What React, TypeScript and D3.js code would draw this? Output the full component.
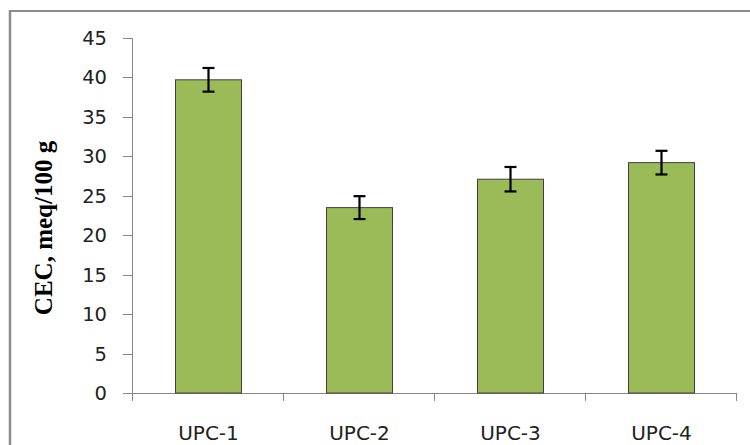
import React from "react";
import * as d3 from "d3";

const categories = ["UPC-1", "UPC-2", "UPC-3", "UPC-4"];
const values = [39.7, 23.5, 27.1, 29.2];
const errors = [1.5, 1.45, 1.55, 1.5];
const yTicks = [0, 5, 10, 15, 20, 25, 30, 35, 40, 45];
const yTitle = "CEC, meq/100 g";

export default function App() {
  const W = 750, H = 445;
  const x0 = 133, x1 = 737, yBase = 393, yTop = 38;
  const x = d3.scaleBand<string>().domain(categories).range([x0, x1]).paddingInner(0.563).paddingOuter(0.2815);
  const y = d3.scaleLinear().domain([0, 45]).range([yBase, yTop]);
  const step = (x1 - x0) / categories.length;
  const boundaries = d3.range(categories.length + 1).map((i) => x0 + i * step);
  const axisColor = "#868686";
  const labelFont = "'DejaVu Sans', sans-serif";
  return (
    <svg width={W} height={H} style={{ position: "absolute", left: 0, top: 0, display: "block", background: "#fff" }}>
      <rect x={0} y={0} width={W} height={H} fill="#fff" />
      {/* frame */}
      <line x1={10} y1={11} x2={W} y2={11} stroke="#8c8c8c" strokeWidth={2} />
      <line x1={10} y1={10} x2={10} y2={H} stroke="#8c8c8c" strokeWidth={2.5} />
      {/* y axis */}
      <line x1={x0 - 0.5} y1={y(45)} x2={x0 - 0.5} y2={yBase + 8} stroke={axisColor} strokeWidth={1} />
      {yTicks.map((t) => (
        <g key={t}>
          <line x1={x0 - 10} x2={x0} y1={Math.round(y(t)) + 0.5} y2={Math.round(y(t)) + 0.5} stroke={axisColor} />
          <text x={107} y={y(t)} dy="0.36em" textAnchor="end" fontFamily={labelFont} fontSize={19.5} fill="#222">
            {t}
          </text>
        </g>
      ))}
      {/* x axis */}
      <line x1={x0} x2={x1} y1={yBase + 0.5} y2={yBase + 0.5} stroke={axisColor} />
      {boundaries.map((b, i) => (
        <line key={i} x1={Math.round(b) - 0.5} x2={Math.round(b) - 0.5} y1={yBase} y2={yBase + 8} stroke={axisColor} />
      ))}
      {/* bars */}
      {categories.map((c, i) => (
        <rect
          key={c}
          x={x(c)!}
          y={y(values[i])}
          width={x.bandwidth()}
          height={yBase - y(values[i])}
          fill="#9bbb59"
          stroke="#404040"
          strokeWidth={1}
        />
      ))}
      {/* error bars */}
      {categories.map((c, i) => {
        const cx = x(c)! + x.bandwidth() / 2;
        const hi = y(values[i] + errors[i]);
        const lo = y(values[i] - errors[i]);
        return (
          <g key={c} stroke="#000" strokeWidth={2.2}>
            <line x1={cx} x2={cx} y1={hi} y2={lo} />
            <line x1={cx - 6} x2={cx + 6} y1={hi} y2={hi} />
            <line x1={cx - 6} x2={cx + 6} y1={lo} y2={lo} />
          </g>
        );
      })}
      {/* x labels */}
      {categories.map((c) => (
        <text key={c} x={x(c)! + x.bandwidth() / 2} y={440} textAnchor="middle" fontFamily={labelFont} fontSize={20} fill="#222">
          {c}
        </text>
      ))}
      {/* y title */}
      <text
        transform={`translate(52,228) rotate(-90)`}
        textAnchor="middle"
        fontFamily="'Liberation Serif', 'Times New Roman', serif"
        fontWeight="bold"
        fontSize={25}
        fill="#000"
      >
        {yTitle}
      </text>
    </svg>
  );
}
